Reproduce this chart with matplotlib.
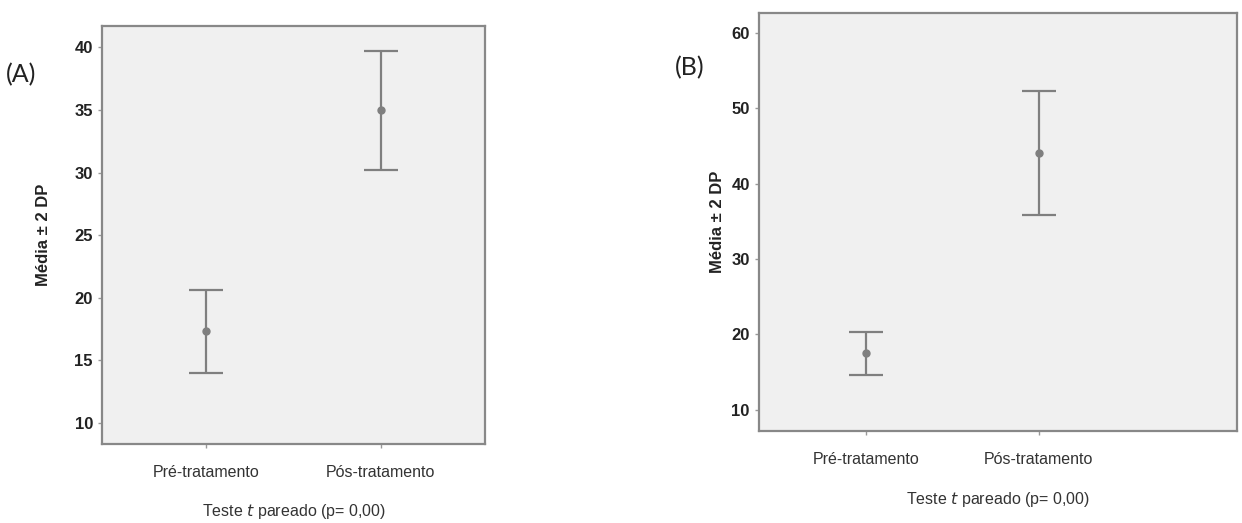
import matplotlib.pyplot as plt

# dados (média, limites ± 2 DP)
grupos = ['Pré-tratamento', 'Pós-tratamento']

media_a = [17.3, 35.0]
sup_a = [20.6, 39.7]
inf_a = [14.0, 30.2]

media_b = [17.5, 44.1]
sup_b = [20.3, 52.3]
inf_b = [14.6, 35.8]

narrow = ['Liberation Sans Narrow', 'Liberation Sans', 'DejaVu Sans']
cinza = '#7f7f7f'

fig = plt.figure(figsize=(12.42, 5.23), dpi=100)
axA = fig.add_axes([0.0821, 0.151, 0.3084, 0.799])
axB = fig.add_axes([0.611, 0.176, 0.385, 0.800])


def painel(ax, media, sup, inf, yticks, ylim, xlim, ypad, xpad):
    x = list(range(len(grupos)))
    err = [[m - l for m, l in zip(media, inf)], [u - m for m, u in zip(media, sup)]]
    ax.errorbar(x, media, yerr=err, fmt='o', color=cinza, ecolor=cinza,
                elinewidth=1.6, capsize=12.5, capthick=1.6, markersize=5)
    ax.set_facecolor('#f0f0f0')
    ax.set_xlim(xlim)
    ax.set_ylim(ylim)
    ax.set_xticks(x)
    ax.set_xticklabels(grupos, family=narrow, fontsize=11.5, color='#333333')
    ax.set_yticks(yticks)
    ax.set_yticklabels([str(t) for t in yticks], family=narrow, fontsize=12,
                       fontweight='bold', color='#222222')
    ax.tick_params(length=3, color='#999999', width=1)
    ax.tick_params(axis='x', pad=12)
    for s in ax.spines.values():
        s.set_color('#888888')
        s.set_linewidth(1.6)
    ax.set_ylabel('Média ± 2 DP', family=narrow, fontsize=12, fontweight='bold',
                  color='#222222', labelpad=ypad)
    ax.set_xlabel('Teste $\\mathit{t}$ pareado (p= 0,00)', family=narrow,
                  fontsize=11.5, color='#333333', labelpad=xpad)


painel(axA, media_a, sup_a, inf_a, [10, 15, 20, 25, 30, 35, 40], (8.3, 41.7), (-0.6, 1.6), 17, 16)
painel(axB, media_b, sup_b, inf_b, [10, 20, 30, 40, 50, 60], (7.2, 62.7), (-0.62, 2.15), 5, 17)

fig.text(0.005, 0.857, '(A)', fontsize=18, va='center', family=['Lato', 'DejaVu Sans'], color='#222222')
fig.text(0.543, 0.870, '(B)', fontsize=18, va='center', family=['Lato', 'DejaVu Sans'], color='#222222')

fig.savefig('out.png', dpi=100)
